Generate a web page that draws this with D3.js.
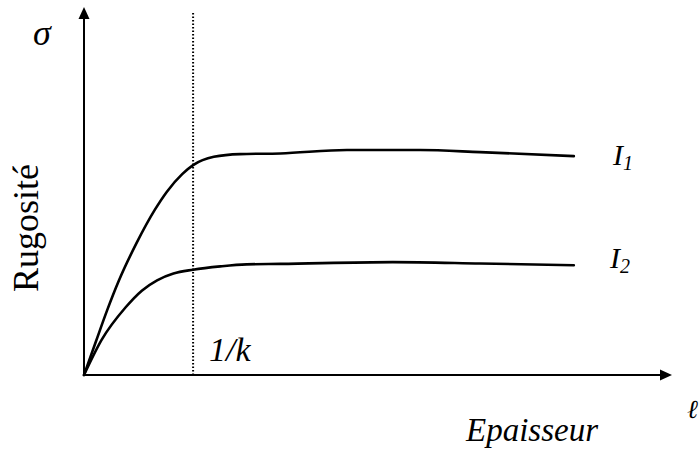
<!DOCTYPE html>
<html>
<head>
<meta charset="utf-8">
<script src="https://cdn.jsdelivr.net/npm/d3@7/dist/d3.min.js"></script>
<style>
  body { margin: 0; background: #fff; }
  #wrap { position: relative; width: 699px; height: 457px; }
  #wrap svg { position: absolute; left: 0; top: 0; }
  .lbl { position: absolute; font-family: "Liberation Serif", "Times New Roman", Times, serif; color: #000; white-space: nowrap; line-height: 1; }
</style>
</head>
<body>
<div id="wrap"><svg id="chart" width="699" height="457"></svg></div>
<script>
// Thickness in units of 1/k, roughness normalised to the I1 plateau
const thicknessI1 = [0, 0.11, 0.21, 0.32, 0.48, 0.65, 0.76, 0.90, 1.00, 1.19, 1.43, 1.80, 2.41, 3.08, 3.63, 4.49];
const roughnessI1 = [0, 0.15, 0.285, 0.42, 0.585, 0.735, 0.815, 0.893, 0.933, 0.97, 0.982, 0.985, 1.0, 1.0, 0.991, 0.973];
const thicknessI2 = [0, 0.16, 0.38, 0.53, 0.67, 0.82, 1.00, 1.25, 1.49, 1.80, 2.83, 3.63, 4.49];
const roughnessI2 = [0, 0.155, 0.30, 0.375, 0.421, 0.451, 0.468, 0.483, 0.492, 0.494, 0.502, 0.496, 0.488];
const seriesLabels = ["I", "I"];
const seriesSubs = ["1", "2"];
const criticalThickness = 1.0;   // 1/k
const xMax = 5.39, yMax = 1.636;

const svg = d3.select("#chart");
const wrap = d3.select("#wrap");
const x = d3.scaleLinear().domain([0, xMax]).range([84, 672]);
const y = d3.scaleLinear().domain([0, yMax]).range([375, 7]);

// Axes with arrowheads
svg.append("line").attr("x1", x(0) - 1).attr("x2", x(xMax) - 10)
  .attr("y1", y(0)).attr("y2", y(0)).attr("stroke", "#000").attr("stroke-width", 2);
svg.append("line").attr("x1", x(0)).attr("x2", x(0))
  .attr("y1", y(0) + 1).attr("y2", y(yMax) + 10).attr("stroke", "#000").attr("stroke-width", 2);
svg.append("path")
  .attr("d", `M${x(xMax)},${y(0)} L${x(xMax) - 12},${y(0) - 5.5} L${x(xMax) - 12},${y(0) + 5.5} Z`)
  .attr("fill", "#000");
svg.append("path")
  .attr("d", `M${x(0)},${y(yMax)} L${x(0) - 5.5},${y(yMax) + 12} L${x(0) + 5.5},${y(yMax) + 12} Z`)
  .attr("fill", "#000");

// Dotted marker at 1/k
svg.append("line")
  .attr("x1", x(criticalThickness)).attr("x2", x(criticalThickness))
  .attr("y1", 13).attr("y2", y(0) + 2)
  .attr("stroke", "#000").attr("stroke-width", 2)
  .attr("stroke-dasharray", "1.6,1.9");

// Curves
const line = d3.line()
  .x(d => x(d[0])).y(d => y(d[1]))
  .curve(d3.curveMonotoneX);
const series = [
  d3.zip(thicknessI1, roughnessI1),
  d3.zip(thicknessI2, roughnessI2)
];
svg.selectAll("path.curve").data(series).enter().append("path")
  .attr("class", "curve")
  .attr("d", line)
  .attr("fill", "none").attr("stroke", "#000").attr("stroke-width", 2.6)
  .attr("stroke-linecap", "round");

// Labels as positioned text blocks; (left, baseline) given, top derived from size
function label(left, baseline, size, html, italic) {
  return wrap.append("div").attr("class", "lbl")
    .style("left", left + "px")
    .style("top", (baseline - size * 0.891) + "px")
    .style("font-size", size + "px")
    .style("font-style", italic ? "italic" : "normal")
    .html(html);
}

label(33, 47, 36, "σ", true);
label(466, 443, 33, "Epaisseur", true);
label(209, 363, 34, "1/k", true);
label(687, 420, 26, "ℓ", true);
const labelPos = [[613, 167], [610, 270]];
labelPos.forEach((p, i) => {
  label(p[0], p[1], 30,
    `${seriesLabels[i]}<span style="font-size:20px;position:relative;top:5px">${seriesSubs[i]}</span>`, true);
});
// Vertical axis title, rotated about its centre
label(0, 0, 36, "Rugosité", false)
  .style("left", null).style("top", null)
  .style("width", "160px").style("text-align", "center")
  .style("left", (40 - 80) + "px").style("top", (228 - 0.891 * 36) + "px")
  .style("transform-origin", "80px " + (0.891 * 36) + "px")
  .style("transform", "translate(0px,0px) rotate(-90deg)");
</script>
</body>
</html>
